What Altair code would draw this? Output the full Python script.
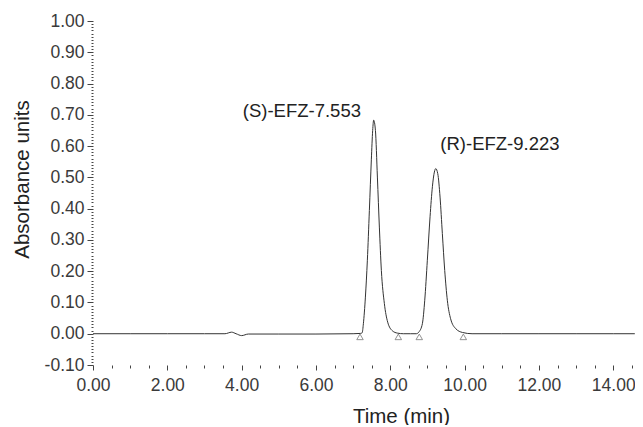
import altair as alt
import pandas as pd

# Chromatogram trace (time in min, absorbance units)
time = [0.00, 1.00, 2.00, 3.00, 3.55, 3.73, 3.85, 4.00, 4.18, 5.00, 6.00, 7.00,
        7.20, 7.243, 7.276, 7.33, 7.383, 7.437, 7.49, 7.526, 7.553, 7.60, 7.653,
        7.706, 7.76, 7.84, 7.93, 8.06, 8.19, 8.35, 8.55, 8.70, 8.773, 8.863,
        8.927, 8.997, 9.07, 9.133, 9.186, 9.223, 9.277, 9.339, 9.401, 9.465,
        9.535, 9.623, 9.763, 9.943, 10.20, 11.00, 12.00, 13.00, 14.00, 14.58]
absorbance = [0.000, 0.000, 0.000, 0.000, 0.000, 0.005, 0.000, -0.006, -0.001,
              -0.001, -0.001, 0.000, 0.001, 0.003, 0.032, 0.117, 0.235, 0.394,
              0.556, 0.650, 0.683, 0.650, 0.501, 0.341, 0.202, 0.097, 0.037,
              0.009, 0.002, 0.000, 0.000, 0.000, 0.006, 0.032, 0.107, 0.235,
              0.374, 0.470, 0.517, 0.528, 0.512, 0.437, 0.320, 0.202, 0.107,
              0.048, 0.016, 0.004, 0.000, 0.000, 0.000, 0.000, 0.000, 0.000]

# Integration markers (open triangles on the baseline)
marker_time = [7.185, 8.216, 8.78, 9.965]
marker_abs = [-0.010, -0.010, -0.010, -0.010]

# Peak annotations
peak_labels = ["(S)-EFZ-7.553", "(R)-EFZ-9.223"]
peak_label_time = [5.62, 10.95]
peak_label_abs = [0.713, 0.608]

# Axis ticks
x_ticks = [i * 0.5 for i in range(30)]
y_ticks = [round(-0.10 + i * 0.01, 2) for i in range(111)]

FONT = "Liberation Sans"
X_MAX = 14.585

trace = pd.DataFrame({"time": time, "absorbance": absorbance})
markers = pd.DataFrame({"time": marker_time, "absorbance": marker_abs})
labels = pd.DataFrame({"time": peak_label_time, "absorbance": peak_label_abs,
                       "label": peak_labels})

x_enc = alt.X(
    "time:Q",
    scale=alt.Scale(domain=[0, X_MAX], nice=False, zero=False),
    axis=alt.Axis(
        values=x_ticks,
        tickCount=60,
        domain=False,
        grid=False,
        tickSize={"condition": {"test": "round(datum.value*2) % 4 === 0", "value": 5}, "value": 3},
        tickColor="#444",
        labelExpr="round(datum.value*2) % 4 === 0 ? format(datum.value, '.2f') : ''",
        labelFont=FONT,
        labelFontSize=17.5,
        labelColor="#3a3a3a",
        labelPadding=6,
        labelFlush=False,
        labelOverlap=False,
        title="Time (min)",
        titleFont=FONT,
        titleFontSize=20.5,
        titleFontWeight="normal",
        titleColor="#222",
        titleX=308,
        titleY=57,
        titleAlign="center",
        titleBaseline="alphabetic",
    ),
)

y_enc = alt.Y(
    "absorbance:Q",
    scale=alt.Scale(domain=[-0.10, 1.00], nice=False, zero=False),
    axis=alt.Axis(
        values=y_ticks,
        tickCount=200,
        domain=False,
        grid=False,
        tickSize={"condition": {"test": "abs(round(datum.value*100)) % 10 === 0", "value": 6}, "value": 2},
        tickColor="#444",
        labelExpr="abs(round(datum.value*100)) % 10 === 0 ? replace(format(datum.value, '.2f'), '\u2212', '-') : ''",
        labelFont=FONT,
        labelFontSize=17.5,
        labelColor="#3a3a3a",
        labelPadding=3,
        labelFlush=False,
        labelOverlap=False,
        title="Absorbance units",
        titleFont=FONT,
        titleFontSize=20.5,
        titleFontWeight="normal",
        titleColor="#222",
        titleAngle=270,
        titleX=-71,
        titleY=158,
        titleAlign="center",
        titleBaseline="middle",
    ),
)

line = alt.Chart(trace).mark_line(
    color="#333", strokeWidth=1, interpolate="monotone"
).encode(x=x_enc, y=y_enc)

tri = alt.Chart(markers).mark_point(
    shape="triangle-up", filled=False, color="#555", size=42, strokeWidth=0.9
).encode(x="time:Q", y="absorbance:Q")

txt = alt.Chart(labels).mark_text(
    font=FONT, fontSize=18.5, color="#222", align="center", baseline="middle"
).encode(x="time:Q", y="absorbance:Q", text="label:N")

chart = alt.layer(line, tri, txt).properties(
    width=542,
    height=344,
    autosize=alt.AutoSizeParams(type="none"),
    padding={"left": 85, "top": 13, "right": 0, "bottom": 60},
    background="white",
).configure_view(stroke=None)

chart.save("out.html", embed_options={"renderer": "svg", "actions": False})
